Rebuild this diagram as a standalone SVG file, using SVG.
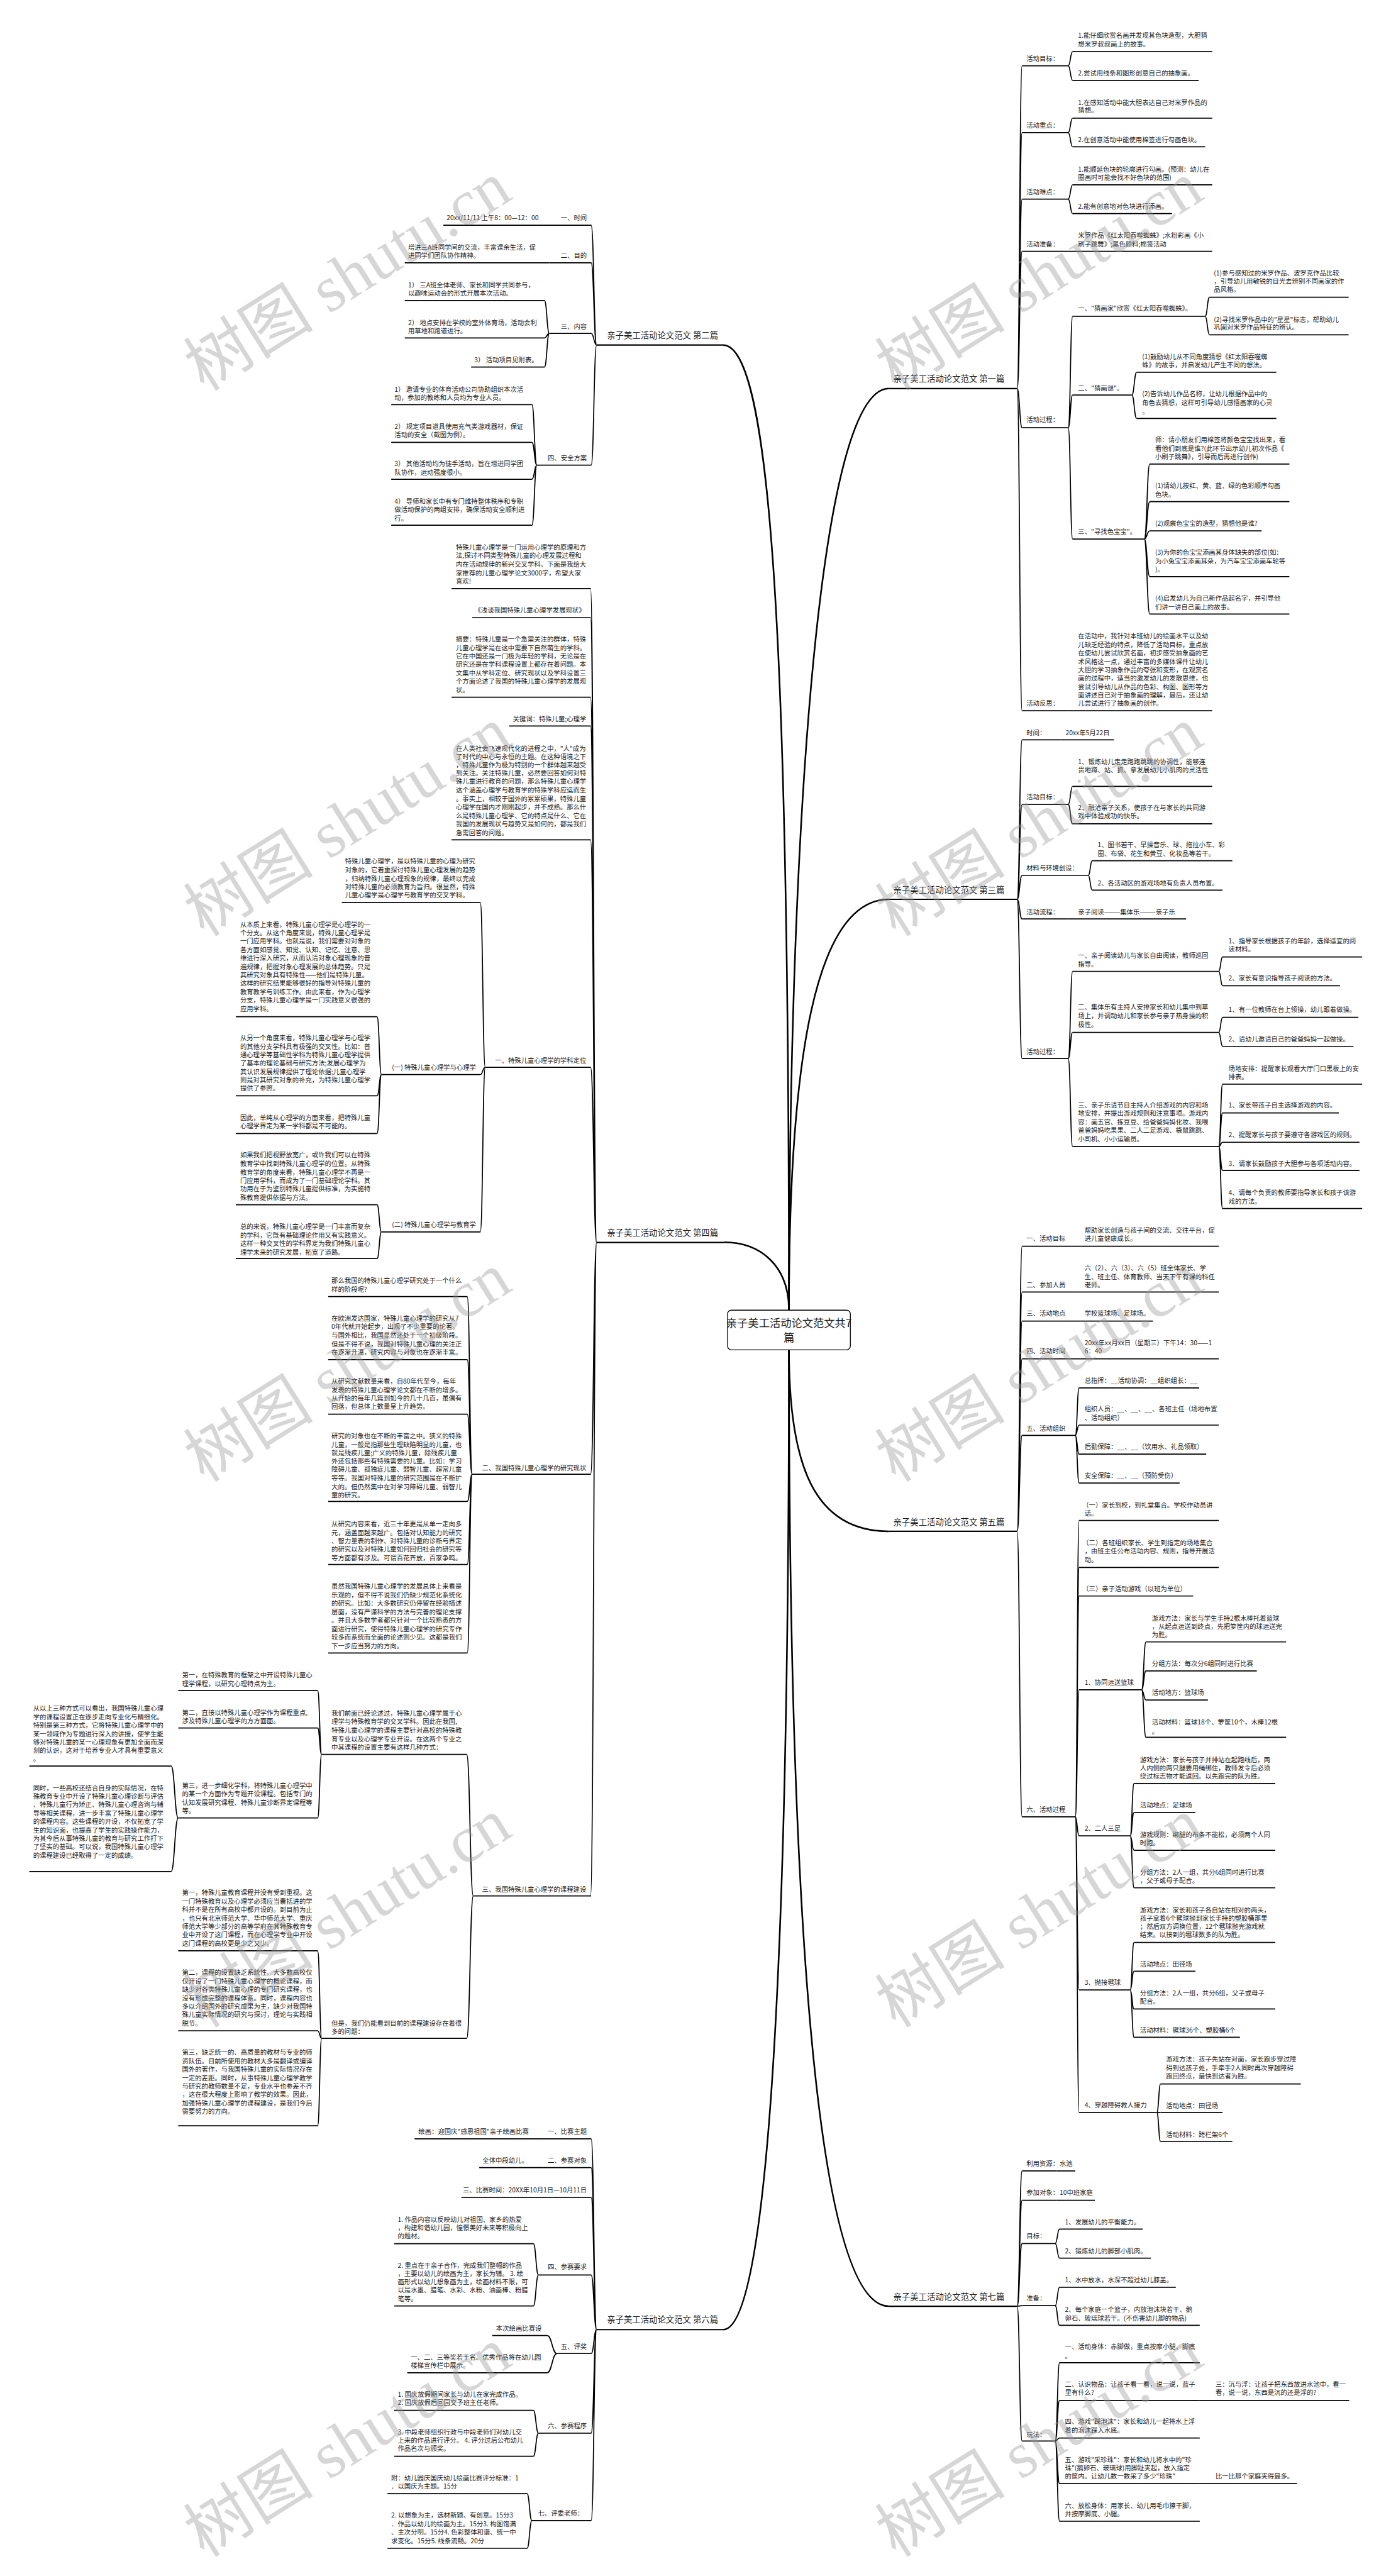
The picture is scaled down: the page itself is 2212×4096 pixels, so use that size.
<svg xmlns="http://www.w3.org/2000/svg" width="2212" height="4096" viewBox="0 0 2212 4096">
<style>
text{font-family:"Noto Sans CJK SC","Liberation Sans",sans-serif;font-size:12px;fill:#1a1a1a}
.l1{font-size:15.5px}
.c{font-size:20px;text-anchor:middle}
.e{text-anchor:end}
.u{stroke:#000;stroke-width:2;fill:none}
.u1{stroke:#000;stroke-width:2.5;fill:none}
.k{stroke:#000;stroke-width:3;fill:none}
.cn{stroke:#000;stroke-width:2;fill:none}
.wm{font-family:"Liberation Serif","Noto Sans CJK SC",serif;font-size:120px;fill:#999;fill-opacity:.4;text-anchor:middle}
</style>
<rect width="2212" height="4096" fill="#fff"/>
<g transform="scale(0.86406)">
<g id="connectors">
<path class="k" d="M1452 2411C1452 1600 1500 715 1636 715"/>
<path class="k" d="M1452 2411C1452 1950 1500 1655 1636 1655"/>
<path class="k" d="M1452 2484C1452 2700 1500 2818 1636 2818"/>
<path class="k" d="M1452 2484C1452 3500 1500 4244 1636 4244"/>
<path class="k" d="M1452 2411C1452 1200 1420 635 1331 635"/>
<path class="k" d="M1452 2411C1452 2330 1400 2286 1333 2286"/>
<path class="k" d="M1452 2484C1452 3500 1420 4287 1331 4287"/>
<path class="cn" d="M1872 715C1876.5 715 1876.5 121 1881 121M1872 715C1876.5 715 1876.5 244 1881 244M1872 715C1876.5 715 1876.5 366.5 1881 366.5M1872 715C1876.5 715 1876.5 462.5 1881 462.5M1872 715C1876.5 715 1876.5 787 1881 787M1872 715C1876.5 715 1876.5 1308 1881 1308"/>
<path class="cn" d="M1966 121C1970 121 1970 95 1974 95M1966 121C1970 121 1970 148 1974 148M1966 244C1970 244 1970 217.5 1974 217.5M1966 244C1970 244 1970 270 1974 270M1966 366.5C1970 366.5 1970 340 1974 340M1966 366.5C1970 366.5 1970 393 1974 393M1966 787C1970 787 1970 582 1974 582M1966 787C1970 787 1970 727 1974 727M1966 787C1970 787 1970 992 1974 992"/>
<path class="cn" d="M2218 582C2222 582 2222 547 2226 547M2218 582C2222 582 2222 616 2226 616M2083 727C2087.5 727 2087.5 685 2092 685M2083 727C2087.5 727 2087.5 770 2092 770M2106 992C2111 992 2111 854 2116 854M2106 992C2111 992 2111 923 2116 923M2106 992C2111 992 2111 977 2116 977M2106 992C2111 992 2111 1061 2116 1061M2106 992C2111 992 2111 1130 2116 1130"/>
<path class="cn" d="M1872 1655C1876.5 1655 1876.5 1361.5 1881 1361.5M1872 1655C1876.5 1655 1876.5 1480.5 1881 1480.5M1872 1655C1876.5 1655 1876.5 1611 1881 1611M1872 1655C1876.5 1655 1876.5 1691 1881 1691M1872 1655C1876.5 1655 1876.5 1948 1881 1948"/>
<path class="cn" d="M1966 1480.5C1970 1480.5 1970 1447 1974 1447M1966 1480.5C1970 1480.5 1970 1516 1974 1516M2003 1611C2006.5 1611 2006.5 1584 2010 1584M2003 1611C2006.5 1611 2006.5 1638 2010 1638M1966 1948C1970 1948 1970 1787.5 1974 1787.5M1966 1948C1970 1948 1970 1900 1974 1900M1966 1948C1970 1948 1970 2110 1974 2110"/>
<path class="cn" d="M2243 1787.5C2246.5 1787.5 2246.5 1761 2250 1761M2243 1787.5C2246.5 1787.5 2246.5 1814 2250 1814M2243 1900C2246.5 1900 2246.5 1872 2250 1872M2243 1900C2246.5 1900 2246.5 1925.5 2250 1925.5M2243 2110C2246.5 2110 2246.5 1995 2250 1995M2243 2110C2246.5 2110 2246.5 2048 2250 2048M2243 2110C2246.5 2110 2246.5 2102 2250 2102M2243 2110C2246.5 2110 2246.5 2154 2250 2154M2243 2110C2246.5 2110 2246.5 2224 2250 2224"/>
<path class="cn" d="M1872 2818C1876.5 2818 1876.5 2293.5 1881 2293.5M1872 2818C1876.5 2818 1876.5 2377.5 1881 2377.5M1872 2818C1876.5 2818 1876.5 2431 1881 2431M1872 2818C1876.5 2818 1876.5 2500.5 1881 2500.5M1872 2818C1876.5 2818 1876.5 2641.5 1881 2641.5M1872 2818C1876.5 2818 1876.5 3343.5 1881 3343.5"/>
<path class="cn" d="M1979 2641.5C1982.5 2641.5 1982.5 2554 1986 2554M1979 2641.5C1982.5 2641.5 1982.5 2622.5 1986 2622.5M1979 2641.5C1982.5 2641.5 1982.5 2676 1986 2676M1979 2641.5C1982.5 2641.5 1982.5 2729 1986 2729"/>
<path class="cn" d="M1979 3343.5C1982.5 3343.5 1982.5 2798 1986 2798M1979 3343.5C1982.5 3343.5 1982.5 2884.5 1986 2884.5M1979 3343.5C1982.5 3343.5 1982.5 2937 1986 2937M1979 3343.5C1982.5 3343.5 1982.5 3109.5 1986 3109.5M1979 3343.5C1982.5 3343.5 1982.5 3378.5 1986 3378.5M1979 3343.5C1982.5 3343.5 1982.5 3662 1986 3662M1979 3343.5C1982.5 3343.5 1982.5 3887.5 1986 3887.5"/>
<path class="cn" d="M2101 3109.5C2105 3109.5 2105 3021.5 2109 3021.5M2101 3109.5C2105 3109.5 2105 3075 2109 3075M2101 3109.5C2105 3109.5 2105 3128.5 2109 3128.5M2101 3109.5C2105 3109.5 2105 3197 2109 3197"/>
<path class="cn" d="M2080 3378.5C2083.5 3378.5 2083.5 3282 2087 3282M2080 3378.5C2083.5 3378.5 2083.5 3335.5 2087 3335.5M2080 3378.5C2083.5 3378.5 2083.5 3405 2087 3405M2080 3378.5C2083.5 3378.5 2083.5 3474 2087 3474"/>
<path class="cn" d="M2080 3662C2083.5 3662 2083.5 3574.5 2087 3574.5M2080 3662C2083.5 3662 2083.5 3627.5 2087 3627.5M2080 3662C2083.5 3662 2083.5 3697 2087 3697M2080 3662C2083.5 3662 2083.5 3749 2087 3749"/>
<path class="cn" d="M2129 3887.5C2132.5 3887.5 2132.5 3835 2136 3835M2129 3887.5L2136 3887.5M2129 3887.5C2132.5 3887.5 2132.5 3941 2136 3941"/>
<path class="cn" d="M1872 4244C1876.5 4244 1876.5 3995 1881 3995M1872 4244C1876.5 4244 1876.5 4049 1881 4049M1872 4244C1876.5 4244 1876.5 4128.5 1881 4128.5M1872 4244C1876.5 4244 1876.5 4243 1881 4243M1872 4244C1876.5 4244 1876.5 4492 1881 4492"/>
<path class="cn" d="M1942 4128.5C1946 4128.5 1946 4102 1950 4102M1942 4128.5C1946 4128.5 1946 4155.5 1950 4155.5M1942 4243C1946 4243 1946 4209 1950 4209M1942 4243C1946 4243 1946 4279 1950 4279M1942 4492C1946 4492 1946 4348 1950 4348M1942 4492C1946 4492 1946 4417.5 1950 4417.5M1942 4492C1946 4492 1946 4486.5 1950 4486.5M1942 4492C1946 4492 1946 4570.5 1950 4570.5M1942 4492C1946 4492 1946 4639.5 1950 4639.5"/>
<path class="cn" d="M1098 635C1093 635 1093 414.5 1088 414.5M1098 635C1093 635 1093 483.5 1088 483.5M1098 635C1093 635 1093 613.5 1088 613.5M1098 635C1093 635 1093 856 1088 856"/>
<path class="cn" d="M1011 613.5C1006.5 613.5 1006.5 553 1002 553M1011 613.5C1006.5 613.5 1006.5 622 1002 622M1011 613.5C1006.5 613.5 1006.5 675.5 1002 675.5M988 856C983.5 856 983.5 744.5 979 744.5M988 856C983.5 856 983.5 814 979 814M988 856C983.5 856 983.5 882 979 882M988 856C983.5 856 983.5 966.5 979 966.5"/>
<path class="cn" d="M1098 2286.5C1092.5 2286.5 1092.5 1083 1087 1083M1098 2286.5C1092.5 2286.5 1092.5 1136.5 1087 1136.5M1098 2286.5C1092.5 2286.5 1092.5 1283 1087 1283M1098 2286.5C1092.5 2286.5 1092.5 1336 1087 1336M1098 2286.5C1092.5 2286.5 1092.5 1545.5 1087 1545.5M1098 2286.5C1092.5 2286.5 1092.5 1964 1087 1964M1098 2286.5C1092.5 2286.5 1092.5 2713 1087 2713M1098 2286.5C1092.5 2286.5 1092.5 3489 1087 3489"/>
<path class="cn" d="M893 1964C888.5 1964 888.5 1660.5 884 1660.5M893 1964C888.5 1964 888.5 1977.5 884 1977.5M893 1964C888.5 1964 888.5 2267 884 2267"/>
<path class="cn" d="M702 1977.5C698 1977.5 698 1871 694 1871M702 1977.5C698 1977.5 698 2016.5 694 2016.5M702 1977.5C698 1977.5 698 2086 694 2086M702 2267C698 2267 698 2217 694 2217M702 2267C698 2267 698 2316 694 2316"/>
<path class="cn" d="M869 2713C864.5 2713 864.5 2386 860 2386M869 2713C864.5 2713 864.5 2502 860 2502M869 2713C864.5 2713 864.5 2602.5 860 2602.5M869 2713C864.5 2713 864.5 2763 860 2763M869 2713C864.5 2713 864.5 2879 860 2879M869 2713C864.5 2713 864.5 3042 860 3042"/>
<path class="cn" d="M871 3489C865 3489 865 3228.5 859 3228.5M871 3489C865 3489 865 3751 859 3751M592 3228.5C588.3 3228.5 588.3 3111 584.6 3111M592 3228.5C588.3 3228.5 588.3 3180 584.6 3180M592 3228.5C588.3 3228.5 588.3 3345.5 584.6 3345.5"/>
<path class="cn" d="M328 3345.5C321.5 3345.5 321.5 3250 315 3250M328 3345.5C321.5 3345.5 321.5 3444 315 3444"/>
<path class="cn" d="M592 3751C588.3 3751 588.3 3590 584.6 3590M592 3751C588.3 3751 588.3 3737 584.6 3737M592 3751C588.3 3751 588.3 3912 584.6 3912"/>
<path class="cn" d="M1098 4287C1093 4287 1093 3936 1088 3936M1098 4287C1093 4287 1093 3989 1088 3989M1098 4287C1093 4287 1093 4044 1088 4044M1098 4287C1093 4287 1093 4186.5 1088 4186.5M1098 4287C1093 4287 1093 4331 1088 4331M1098 4287C1093 4287 1093 4477.5 1088 4477.5M1098 4287C1093 4287 1093 4638.5 1088 4638.5"/>
<path class="cn" d="M991 4186.5C986.3 4186.5 986.3 4129 981.6 4129M991 4186.5C986.3 4186.5 986.3 4243.5 981.6 4243.5M1025 4331C1016 4331 1016 4298 1007 4298M1025 4331C1016 4331 1016 4366.5 1007 4366.5M991 4477.5C986.3 4477.5 986.3 4435.5 981.6 4435.5M991 4477.5C986.3 4477.5 986.3 4520 981.6 4520M979 4638.5C974.5 4638.5 974.5 4589 970 4589M979 4638.5C974.5 4638.5 974.5 4689.5 970 4689.5"/>
</g>

<g id="center"><rect x="1339" y="2411" width="226" height="73" rx="7" fill="#fff" stroke="#000" stroke-width="1.5"/><text class="c" x="1452" y="2442">亲子美工活动论文范文共7</text><text class="c" x="1452" y="2469">篇</text></g>

<g id="p1"><text class="l1" x="1644" y="703">亲子美工活动论文范文 第一篇</text><path class="u1" d="M1636 715H1872"/></g>
<g id="p1-a"><text x="1889" y="112.5">活动目标：</text><path class="u" d="M1881 121H1966"/></g>
<g id="p1-a1"><text x="1984" y="70">1.能仔细欣赏名画并发现其色块造型，大胆猜</text><text x="1984" y="86">想米罗叔叔画上的故事。</text><path class="u" d="M1974 95H2231"/></g>
<g id="p1-a2"><text x="1984" y="139">2.尝试用线条和图形创意自己的抽象画。</text><path class="u" d="M1974 148H2206"/></g>
<g id="p1-b"><text x="1889" y="235">活动重点：</text><path class="u" d="M1881 244H1966"/></g>
<g id="p1-b1"><text x="1984" y="193">1.在感知活动中能大胆表达自己对米罗作品的</text><text x="1984" y="207.5">猜想。</text><path class="u" d="M1974 217.5H2231"/></g>
<g id="p1-b2"><text x="1984" y="261.5">2.在创意活动中能使用棉签进行勾画色块。</text><path class="u" d="M1974 270H2218"/></g>
<g id="p1-c"><text x="1889" y="357.5">活动难点：</text><path class="u" d="M1881 366.5H1966"/></g>
<g id="p1-c1"><text x="1984" y="315.5">1.能顺延色块的轮廓进行勾画。(预测：幼儿在</text><text x="1984" y="331">圈画时可能会找不好色块的范围)</text><path class="u" d="M1974 340H2231"/></g>
<g id="p1-c2"><text x="1984" y="384">2.能有创意地对色块进行添画。</text><path class="u" d="M1974 393H2157"/></g>
<g id="p1-d"><text x="1889" y="453.5">活动准备：</text><path class="u" d="M1881 462.5H1966"/></g>
<g id="p1-d1"><text x="1984" y="438">米罗作品《红太阳吞噬蜘蛛》;水粉彩画《小</text><text x="1984" y="453.5">刷子跳舞》;黑色颜料;棉签活动</text><path class="u" d="M1966 462.5H2231"/></g>
<g id="p1-e"><text x="1889" y="777">活动过程：</text><path class="u" d="M1881 787H1966"/></g>
<g id="p1-e1"><text x="1984" y="572">一、"猜画家"欣赏《红太阳吞噬蜘蛛》。</text><path class="u" d="M1974 582H2218"/></g>
<g id="p1-e1a"><text x="2234" y="506.5">(1)参与感知过的米罗作品、波罗克作品比较</text><text x="2234" y="522">，引导幼儿用敏锐的目光去辨别不同画家的作</text><text x="2234" y="537">品风格。</text><path class="u" d="M2226 547H2482"/></g>
<g id="p1-e1b"><text x="2234" y="592">(2)寻找米罗作品中的"星星"标志，帮助幼儿</text><text x="2234" y="606.5">巩固对米罗作品特征的辨认。</text><path class="u" d="M2226 616H2482"/></g>
<g id="p1-e2"><text x="1984" y="719">二、"猜画谜"。</text><path class="u" d="M1974 727H2083"/></g>
<g id="p1-e2a"><text x="2102" y="661">(1)鼓励幼儿从不同角度猜想《红太阳吞噬蜘</text><text x="2102" y="676">蛛》的故事，并启发幼儿产生不同的想法。</text><path class="u" d="M2092 685H2349"/></g>
<g id="p1-e2b"><text x="2102" y="729.5">(2)告诉幼儿作品名称，让幼儿根据作品中的</text><text x="2102" y="745.5">角色去猜想，这样可引导幼儿感悟画家的心灵</text><text x="2102" y="762">。</text><path class="u" d="M2092 770H2349"/></g>
<g id="p1-e3"><text x="1984" y="983">三、"寻找色宝宝"。</text><path class="u" d="M1974 992H2106"/></g>
<g id="p1-e3a"><text x="2126" y="813.5">师：请小朋友们用棉签将颜色宝宝找出来，看</text><text x="2126" y="829.5">看他们到底是谁?(此环节出示幼儿初次作品《</text><text x="2126" y="844.5">小刷子跳舞》，引导而后再进行创作)</text><path class="u" d="M2116 854H2373"/></g>
<g id="p1-e3b"><text x="2126" y="898.5">(1)请幼儿按红、黄、蓝、绿的色彩顺序勾画</text><text x="2126" y="914">色块。</text><path class="u" d="M2116 923H2373"/></g>
<g id="p1-e3c"><text x="2126" y="967.5">(2)观察色宝宝的造型，猜想他是谁?</text><path class="u" d="M2116 977H2322"/></g>
<g id="p1-e3d"><text x="2126" y="1020.5">(3)为你的色宝宝添画其身体缺失的部位(如：</text><text x="2126" y="1036.5">为小兔宝宝添画耳朵，为汽车宝宝添画车轮等</text><text x="2126" y="1052.5">)。</text><path class="u" d="M2116 1061H2373"/></g>
<g id="p1-e3e"><text x="2126" y="1105.5">(4)启发幼儿为自己新作品起名字，并引导他</text><text x="2126" y="1121.5">们讲一讲自己画上的故事。</text><path class="u" d="M2116 1130H2373"/></g>
<g id="p1-f"><text x="1889" y="1298">活动反思：</text><path class="u" d="M1881 1308H1966"/></g>
<g id="p1-f1"><text x="1984" y="1175">在活动中，我针对本班幼儿的绘画水平以及幼</text><text x="1984" y="1190.5">儿缺乏经验的特点，降低了活动目标，重点放</text><text x="1984" y="1206">在使幼儿尝试欣赏名画，初步感受抽象画的艺</text><text x="1984" y="1222">术风格这一点，通过丰富的多媒体课件让幼儿</text><text x="1984" y="1237">大胆的学习抽象作品的夸张和变形，在观赏名</text><text x="1984" y="1252.5">画的过程中，适当的激发幼儿的发散思维，也</text><text x="1984" y="1268">尝试引导幼儿从作品的色彩、构图、图形等方</text><text x="1984" y="1283">面讲述自己对于抽象画的理解，最后，还让幼</text><text x="1984" y="1298">儿尝试进行了抽象画的创作。</text><path class="u" d="M1966 1308H2231"/></g>

<g id="p3"><text class="l1" x="1644" y="1643">亲子美工活动论文范文 第三篇</text><path class="u1" d="M1636 1655H1872"/></g>
<g id="p3-a"><text x="1889" y="1353">时间：</text><path class="u" d="M1881 1361.5H1952"/></g>
<g id="p3-a1"><text x="1961" y="1353">20xx年5月22日</text><path class="u" d="M1952 1361.5H2050"/></g>
<g id="p3-b"><text x="1889" y="1471">活动目标：</text><path class="u" d="M1881 1480.5H1966"/></g>
<g id="p3-b1"><text x="1984" y="1406.5">1、锻炼幼儿走走跑跑跳跳的协调性，能够连</text><text x="1984" y="1421.5">贯地蹲、站、抓、拿发展幼儿小肌肉的灵活性</text><text x="1984" y="1438">。</text><path class="u" d="M1974 1447H2231"/></g>
<g id="p3-b2"><text x="1984" y="1490.5">2、融洽亲子关系，使孩子在与家长的共同游</text><text x="1984" y="1505.5">戏中体验成功的快乐。</text><path class="u" d="M1974 1516H2231"/></g>
<g id="p3-c"><text x="1889" y="1601.5">材料与环境创设：</text><path class="u" d="M1881 1611H2003"/></g>
<g id="p3-c1"><text x="2020" y="1559.5">1、图书若干、早操音乐、球、拖拉小车、彩</text><text x="2020" y="1575">圈、布袋、花生和黄豆、化妆品等若干。</text><path class="u" d="M2010 1584H2268"/></g>
<g id="p3-c2"><text x="2020" y="1629">2、各活动区的游戏场地有负责人员布置。</text><path class="u" d="M2010 1638H2250"/></g>
<g id="p3-d"><text x="1889" y="1682.5">活动流程：</text><path class="u" d="M1881 1691H1966"/></g>
<g id="p3-d1"><text x="1984" y="1682.5">亲子阅读———集体乐———亲子乐</text><path class="u" d="M1966 1691H2183"/></g>
<g id="p3-e"><text x="1889" y="1939.5">活动过程：</text><path class="u" d="M1881 1948H1966"/></g>
<g id="p3-e1"><text x="1984" y="1762.5">一、亲子阅读幼儿与家长自由阅读，教师巡回</text><text x="1984" y="1778.5">指导。</text><path class="u" d="M1974 1787.5H2243"/></g>
<g id="p3-e1a"><text x="2261" y="1735.5">1、指导家长根据孩子的年龄，选择适宜的阅</text><text x="2261" y="1751.5">读材料。</text><path class="u" d="M2250 1761H2507"/></g>
<g id="p3-e1b"><text x="2261" y="1804.5">2、家长有意识指导孩子阅读的方法。</text><path class="u" d="M2250 1814H2466"/></g>
<g id="p3-e2"><text x="1984" y="1858">二、集体乐有主持人安排家长和幼儿集中到草</text><text x="1984" y="1874">场上，并调动幼儿和家长参与亲子热身操的积</text><text x="1984" y="1889.5">极性。</text><path class="u" d="M1974 1900H2243"/></g>
<g id="p3-e2a"><text x="2261" y="1862.5">1、有一位教师在台上领操，幼儿跟着做操。</text><path class="u" d="M2250 1872H2500"/></g>
<g id="p3-e2b"><text x="2261" y="1916">2、请幼儿邀请自己的爸爸妈妈一起做操。</text><path class="u" d="M2250 1925.5H2491"/></g>
<g id="p3-e3"><text x="1984" y="2037.5">三、亲子乐请节目主持人介绍游戏的内容和场</text><text x="1984" y="2053.5">地安排，并提出游戏规则和注意事项。游戏内</text><text x="1984" y="2069">容：画五官、拣豆豆、给爸爸妈妈化妆、我喂</text><text x="1984" y="2084.5">爸爸妈妈吃果果、二人二足游戏、袋鼠跳跳、</text><text x="1984" y="2100.5">小司机、小小运输员。</text><path class="u" d="M1974 2110H2243"/></g>
<g id="p3-e3a"><text x="2261" y="1970.5">场地安排：提醒家长观看大厅门口黑板上的安</text><text x="2261" y="1986">排表。</text><path class="u" d="M2250 1995H2507"/></g>
<g id="p3-e3b"><text x="2261" y="2038.5">1、家长带孩子自主选择游戏的内容。</text><path class="u" d="M2250 2048H2464"/></g>
<g id="p3-e3c"><text x="2261" y="2092.5">2、提醒家长与孩子要遵守各游戏区的规则。</text><path class="u" d="M2250 2102H2502"/></g>
<g id="p3-e3d"><text x="2261" y="2146">3、请家长鼓励孩子大胆参与各项活动内容。</text><path class="u" d="M2250 2154H2502"/></g>
<g id="p3-e3e"><text x="2261" y="2199.5">4、请每个负责的教师要指导家长和孩子该游</text><text x="2261" y="2215">戏的方法。</text><path class="u" d="M2250 2224H2507"/></g>

<g id="p5"><text class="l1" x="1644" y="2806">亲子美工活动论文范文 第五篇</text><path class="u1" d="M1636 2818H1872"/></g>
<g id="p5-a"><text x="1889" y="2283.5">一、活动目标</text><path class="u" d="M1881 2293.5H1988"/></g>
<g id="p5-a1"><text x="1996" y="2268.5">帮助家长创造与孩子间的交流、交往平台，促</text><text x="1996" y="2283.5">进儿童健康成长。</text><path class="u" d="M1988 2293.5H2243"/></g>
<g id="p5-b"><text x="1889" y="2368.5">二、参加人员</text><path class="u" d="M1881 2377.5H1988"/></g>
<g id="p5-b1"><text x="1996" y="2337.5">六（2）、六（3）、六（5）班全体家长、学</text><text x="1996" y="2353.5">生、班主任、体育教师、当天下午有课的科任</text><text x="1996" y="2368.5">老师。</text><path class="u" d="M1988 2377.5H2243"/></g>
<g id="p5-c"><text x="1889" y="2421.5">三、活动地点</text><path class="u" d="M1881 2431H1988"/></g>
<g id="p5-c1"><text x="1996" y="2421.5">学校篮球场、足球场。</text><path class="u" d="M1988 2431H2122"/></g>
<g id="p5-d"><text x="1889" y="2490.5">四、活动时间</text><path class="u" d="M1881 2500.5H1988"/></g>
<g id="p5-d1"><text x="1996" y="2475.5">20xx年xx月xx日（星期三）下午14：30——1</text><text x="1996" y="2490.5">6：40</text><path class="u" d="M1988 2500.5H2243"/></g>
<g id="p5-e"><text x="1889" y="2632.5">五、活动组织</text><path class="u" d="M1881 2641.5H1979"/></g>
<g id="p5-e1"><text x="1996" y="2544.5">总指挥：__活动协调：__组织组长：__</text><path class="u" d="M1986 2554H2207"/></g>
<g id="p5-e2"><text x="1996" y="2597.5">组织人员：__、__、__、各班主任（场地布置</text><text x="1996" y="2613.5">、活动组织）</text><path class="u" d="M1986 2622.5H2243"/></g>
<g id="p5-e3"><text x="1996" y="2666.5">后勤保障：__、__（饮用水、礼品领取）</text><path class="u" d="M1986 2676H2220"/></g>
<g id="p5-e4"><text x="1996" y="2719.5">安全保障：__、__（预防受伤）</text><path class="u" d="M1986 2729H2171"/></g>
<g id="p5-f"><text x="1889" y="3334.5">六、活动过程</text><path class="u" d="M1881 3343.5H1979"/></g>
<g id="p5-f1"><text x="1992" y="2774">（一）家长到校，到礼堂集合。学校作动员讲</text><text x="1996" y="2789.5">话。</text><path class="u" d="M1986 2798H2243"/></g>
<g id="p5-f2"><text x="1992" y="2843">（二）各班组织家长、学生到指定的场地集合</text><text x="1996" y="2859">，由班主任公布活动内容、规则，指导开展活</text><text x="1996" y="2874.5">动。</text><path class="u" d="M1986 2884.5H2243"/></g>
<g id="p5-f3"><text x="1992" y="2928">（三）亲子活动游戏（以班为单位）</text><path class="u" d="M1986 2937H2196"/></g>
<g id="p5-f4"><text x="1996" y="3100.5">1、协同运送篮球</text><path class="u" d="M1986 3109.5H2101"/></g>
<g id="p5-f4a"><text x="2120" y="2982.5">游戏方法：家长与学生手持2根木棒托着篮球</text><text x="2120" y="2997.5">，从起点运送到终点，先把箩筐内的球运送完</text><text x="2120" y="3012.5">为胜。</text><path class="u" d="M2109 3021.5H2367"/></g>
<g id="p5-f4b"><text x="2120" y="3066">分组方法：每次分6组同时进行比赛</text><path class="u" d="M2109 3075H2313"/></g>
<g id="p5-f4c"><text x="2120" y="3119.5">活动地方：篮球场</text><path class="u" d="M2109 3128.5H2223"/></g>
<g id="p5-f4d"><text x="2120" y="3173">活动材料：篮球18个、箩筐10个，木棒12根</text><text x="2120" y="3191">。</text><path class="u" d="M2109 3197H2367"/></g>
<g id="p5-f5"><text x="1996" y="3369.5">2、二人三足</text><path class="u" d="M1986 3378.5H2080"/></g>
<g id="p5-f5a"><text x="2098" y="3242.5">游戏方法：家长与孩子并排站在起跑线后，两</text><text x="2098" y="3258">人内侧的两只腿要用绳绑住，教师发令后必须</text><text x="2098" y="3273.5">绕过标志物才能返回。以先跑完的队为胜。</text><path class="u" d="M2087 3282H2347"/></g>
<g id="p5-f5b"><text x="2098" y="3326.5">活动地点：足球场</text><path class="u" d="M2087 3335.5H2200"/></g>
<g id="p5-f5c"><text x="2098" y="3380.5">游戏规则：绑腿的布条不能松，必须两个人同</text><text x="2098" y="3396">时跑。</text><path class="u" d="M2087 3405H2347"/></g>
<g id="p5-f5d"><text x="2098" y="3449.5">分组方法：2人一组，共分6组同时进行比赛</text><text x="2098" y="3465">，父子或母子配合。</text><path class="u" d="M2087 3474H2347"/></g>
<g id="p5-f6"><text x="1996" y="3653">3、抛接毽球</text><path class="u" d="M1986 3662H2080"/></g>
<g id="p5-f6a"><text x="2098" y="3519">游戏方法：家长和孩子各自站在相对的两头，</text><text x="2098" y="3534.5">孩子拿着6个毽球抛到家长手持的塑胶桶那里</text><text x="2098" y="3550">；然后双方调换位置，12个毽球抛完游戏就</text><text x="2098" y="3565">结束。以接到的毽球数多的队为胜。</text><path class="u" d="M2087 3574.5H2347"/></g>
<g id="p5-f6b"><text x="2098" y="3618.5">活动地点：田径场</text><path class="u" d="M2087 3627.5H2200"/></g>
<g id="p5-f6c"><text x="2098" y="3672.5">分组方法：2人一组，共分6组，父子或母子</text><text x="2098" y="3687.5">配合。</text><path class="u" d="M2087 3697H2347"/></g>
<g id="p5-f6d"><text x="2098" y="3740.5">活动材料：毽球36个、塑胶桶6个</text><path class="u" d="M2087 3749H2282"/></g>
<g id="p5-f7"><text x="1996" y="3878.5">4、穿越障碍救人接力</text><path class="u" d="M1986 3887.5H2129"/></g>
<g id="p5-f7a"><text x="2146" y="3794">游戏方法：孩子先站在对面，家长跑步穿过障</text><text x="2146" y="3810">碍到达孩子处，手牵手2人同时再次穿越障碍</text><text x="2146" y="3825.5">跑回终点，最快到达者为胜。</text><path class="u" d="M2136 3835H2394"/></g>
<g id="p5-f7b"><text x="2146" y="3879.5">活动地点：田径场</text><path class="u" d="M2136 3887.5H2250"/></g>
<g id="p5-f7c"><text x="2146" y="3932.5">活动材料：跨栏架6个</text><path class="u" d="M2136 3941H2268"/></g>

<g id="p7"><text class="l1" x="1644" y="4232">亲子美工活动论文范文 第七篇</text><path class="u1" d="M1636 4244H1872"/></g>
<g id="p7-a"><text x="1889" y="3986">利用资源：</text><path class="u" d="M1881 3995H1945"/></g>
<g id="p7-a1"><text x="1950" y="3986">水池</text><path class="u" d="M1945 3995H1979"/></g>
<g id="p7-b"><text x="1889" y="4039.5">参加对象：</text><path class="u" d="M1881 4049H1945"/></g>
<g id="p7-b1"><text x="1950" y="4039.5">10中班家庭</text><path class="u" d="M1945 4049H2015"/></g>
<g id="p7-c"><text x="1889" y="4119.5">目标：</text><path class="u" d="M1881 4128.5H1942"/></g>
<g id="p7-c1"><text x="1960" y="4093">1、发展幼儿的平衡能力。</text><path class="u" d="M1950 4102H2103"/></g>
<g id="p7-c2"><text x="1960" y="4146.5">2、锻炼幼儿的脚部小肌肉。</text><path class="u" d="M1950 4155.5H2118"/></g>
<g id="p7-d"><text x="1889" y="4234">准备：</text><path class="u" d="M1881 4243H1942"/></g>
<g id="p7-d1"><text x="1960" y="4200">1、水中放水，水深不超过幼儿膝盖。</text><path class="u" d="M1950 4209H2164"/></g>
<g id="p7-d2"><text x="1960" y="4254">2、每个家庭一个篮子，内放泡沫块若干、鹅</text><text x="1960" y="4270">卵石、玻璃球若干。(不伤害幼儿脚的物品)</text><path class="u" d="M1950 4279H2208"/></g>
<g id="p7-e"><text x="1889" y="4485">玩法：</text><path class="u" d="M1881 4492H1942"/></g>
<g id="p7-e1"><text x="1960" y="4322.5">一、活动身体：赤脚做，重点按摩小腿、脚底</text><text x="1960" y="4339.5">。</text><path class="u" d="M1950 4348H2208"/></g>
<g id="p7-e2"><text x="1960" y="4391.5">二、认识物品：让孩子看一看，说一说，蓝子</text><text x="1960" y="4407">里有什么?</text><path class="u" d="M1950 4417.5H2208"/></g>
<g id="p7-e2a"><text x="2237" y="4391.5">三：沉与浮：让孩子把东西放进水池中，看一</text><text x="2237" y="4407">看，说一说，东西是沉的还是浮的?</text><path class="u" d="M2208 4417.5H2483"/></g>
<g id="p7-e3"><text x="1960" y="4460.5">四、游戏"踩泡沫"：家长和幼儿一起将水上浮</text><text x="1960" y="4476.5">着的泡沫踩入水底。</text><path class="u" d="M1950 4486.5H2208"/></g>
<g id="p7-e4"><text x="1960" y="4530.5">五、游戏"采珍珠"：家长和幼儿将水中的"珍</text><text x="1960" y="4545.5">珠"(鹅卵石、玻璃球)用脚趾夹起，放入指定</text><text x="1960" y="4560.5">的筐内。让幼儿数一数采了多少"珍珠"</text><path class="u" d="M1950 4570.5H2208"/></g>
<g id="p7-e4a"><text x="2237" y="4560.5">比一比那个家庭夹得最多。</text><path class="u" d="M2208 4570.5H2387"/></g>
<g id="p7-e5"><text x="1960" y="4615">六、放松身体：用家长、幼儿用毛巾擦干脚，</text><text x="1960" y="4630.5">并按摩脚底、小腿。</text><path class="u" d="M1950 4639.5H2208"/></g>

<g id="p2"><text class="l1" x="1117" y="622.5">亲子美工活动论文范文 第二篇</text><path class="u1" d="M1098 635H1331"/></g>
<g id="p2-a"><text class="e" x="1080" y="405.5">一、时间</text><path class="u" d="M1000 414.5H1088"/></g>
<g id="p2-a1"><text x="822" y="405.5">20xx/11/11 上午8：00—12：00</text><path class="u" d="M816 414.5H1000"/></g>
<g id="p2-b"><text class="e" x="1080" y="475">二、目的</text><path class="u" d="M1011 483.5H1088"/></g>
<g id="p2-b1"><text x="751" y="459">增进三A班同学间的交流，丰富课余生活，促</text><text x="751" y="475">进同学们团队协作精神。</text><path class="u" d="M745 483.5H1011"/></g>
<g id="p2-c"><text class="e" x="1080" y="605.5">三、内容</text><path class="u" d="M1011 613.5H1088"/></g>
<g id="p2-c1"><text x="751" y="529">1） 三A班全体老师、家长和同学共同参与，</text><text x="751" y="544.5">以趣味运动会的形式开展本次活动。</text><path class="u" d="M745 553H1002"/></g>
<g id="p2-c2"><text x="751" y="598">2） 地点安排在学校的室外体育场，活动会利</text><text x="751" y="613.5">用草地和跑道进行。</text><path class="u" d="M745 622H1002"/></g>
<g id="p2-c3"><text x="873" y="666.5">3） 活动项目见附表。</text><path class="u" d="M867 675.5H1002"/></g>
<g id="p2-d"><text class="e" x="1080" y="847.5">四、安全方案</text><path class="u" d="M988 856H1088"/></g>
<g id="p2-d1"><text x="726" y="720.5">1） 邀请专业的体育活动公司协助组织本次活</text><text x="726" y="735.5">动，参加的教练和人员均为专业人员。</text><path class="u" d="M720 744.5H979"/></g>
<g id="p2-d2"><text x="726" y="789.5">2） 规定项目道具使用充气类游戏器材，保证</text><text x="726" y="804.5">活动的安全（截图为例）。</text><path class="u" d="M720 814H979"/></g>
<g id="p2-d3"><text x="726" y="858">3） 其他活动均为徒手活动，旨在增进同学团</text><text x="726" y="873.5">队协作，运动强度很小。</text><path class="u" d="M720 882H979"/></g>
<g id="p2-d4"><text x="726" y="927">4） 导师和家长中有专门维持整体秩序和专职</text><text x="726" y="942.5">做活动保护的两组安排，确保活动安全顺利进</text><text x="726" y="958">行。</text><path class="u" d="M720 966.5H979"/></g>

<g id="p4"><text class="l1" x="1117" y="2274">亲子美工活动论文范文 第四篇</text><path class="u1" d="M1098 2286.5H1333"/></g>
<g id="p4-a"><text x="839" y="1012">特殊儿童心理学是一门运用心理学的原理和方</text><text x="839" y="1027">法,探讨不同类型特殊儿童的心理发展过程和</text><text x="839" y="1043">内在活动规律的新兴交叉学科。下面是我给大</text><text x="839" y="1058.5">家推荐的儿童心理学论文3000字，希望大家</text><text x="839" y="1074">喜欢!</text><path class="u" d="M831 1083H1087"/></g>
<g id="p4-b"><text class="e" x="1077" y="1127">《浅谈我国特殊儿童心理学发展现状》</text><path class="u" d="M869 1136.5H1087"/></g>
<g id="p4-c"><text x="839" y="1180.5">摘要：特殊儿童是一个急需关注的群体，特殊</text><text x="839" y="1196.3">儿童心理学是在这中需要下自然萌生的学科。</text><text x="839" y="1211.5">它在中国还是一门极为年轻的学科，无论是在</text><text x="839" y="1227.2">研究还是在学科课程设置上都存在着问题。本</text><text x="839" y="1243">文集中从学科定位、研究现状以及学科设置三</text><text x="839" y="1258.5">个方面论述了我国的特殊儿童心理学的发展现</text><text x="839" y="1274">状。</text><path class="u" d="M831 1283H1087"/></g>
<g id="p4-d"><text class="e" x="1079" y="1327">关键词：特殊儿童;心理学</text><path class="u" d="M937 1336H1087"/></g>
<g id="p4-e"><text x="839" y="1381.5">在人类社会飞速现代化的进程之中，"人"成为</text><text x="839" y="1396.5">了时代的中心与永恒的主题。在这种语境之下</text><text x="839" y="1412">，特殊儿童作为极为特别的一个群体越来越受</text><text x="839" y="1427.5">到关注。关注特殊儿童，必然要回答如何对特</text><text x="839" y="1442.5">殊儿童进行教育的问题，那么特殊儿童心理学</text><text x="839" y="1458.5">这个涵盖心理学与教育学的特殊学科应运而生</text><text x="839" y="1474.5">。事实上，相较于国外的累累硕果，特殊儿童</text><text x="839" y="1490">心理学在国内才刚刚起步，并不成熟。那么什</text><text x="839" y="1505.3">么是特殊儿童心理学、它的特点是什么、它在</text><text x="839" y="1521">我国的发展现状与趋势又是如何的，都是我们</text><text x="839" y="1536.5">急需回答的问题。</text><path class="u" d="M831 1545.5H1087"/></g>
<g id="p4-f"><text class="e" x="1079" y="1956">一、特殊儿童心理学的学科定位</text><path class="u" d="M893 1964H1087"/></g>
<g id="p4-f1"><text x="635" y="1589.5">特殊儿童心理学，是以特殊儿童的心理为研究</text><text x="635" y="1605.5">对象的，它着重探讨特殊儿童心理发展的趋势</text><text x="635" y="1621">，归纳特殊儿童心理现象的规律，最终以完成</text><text x="635" y="1636.5">对特殊儿童的必须教育为旨归。很显然，特殊</text><text x="635" y="1652">儿童心理学是心理学与教育学的交叉学科。</text><path class="u" d="M629 1660.5H884"/></g>
<g id="p4-f2"><text class="e" x="876" y="1968.5">(一) 特殊儿童心理学与心理学</text><path class="u" d="M702 1977.5H884"/></g>
<g id="p4-f2a"><text x="442" y="1705.5">从本质上来看，特殊儿童心理学是心理学的一</text><text x="442" y="1721">个分支。从这个角度来说，特殊儿童心理学是</text><text x="442" y="1736.5">一门应用学科。也就是说，我们需要对对象的</text><text x="442" y="1752">各方面如感觉、知觉、认知、记忆、注意、思</text><text x="442" y="1767.5">维进行深入研究，从而认清对象心理现象的普</text><text x="442" y="1783">遍规律，把握对象心理发展的总体趋势。只是</text><text x="442" y="1798">其研究对象具有特殊性——他们是特殊儿童。</text><text x="442" y="1813.5">这样的研究结果能够很好的指导对特殊儿童的</text><text x="442" y="1829.5">教育教学与训练工作。由此来看，作为心理学</text><text x="442" y="1845">分支，特殊儿童心理学是一门实践意义很强的</text><text x="442" y="1860.5">应用学科。</text><path class="u" d="M434 1871H694"/></g>
<g id="p4-f2b"><text x="442" y="1914">从另一个角度来看，特殊儿童心理学与心理学</text><text x="442" y="1930">的其他分支学科具有极强的交叉性。比如：普</text><text x="442" y="1945">通心理学等基础性学科为特殊儿童心理学提供</text><text x="442" y="1961">了基本的理论基础与研究方法;发展心理学为</text><text x="442" y="1976.5">其认识发展规律提供了理论依据;儿童心理学</text><text x="442" y="1991.5">则是对其研究对象的补充，为特殊儿童心理学</text><text x="442" y="2007">提供了参照。</text><path class="u" d="M434 2016.5H694"/></g>
<g id="p4-f2c"><text x="442" y="2061.5">因此，单纯从心理学的方面来看，把特殊儿童</text><text x="442" y="2076.5">心理学界定为某一学科都是不可能的。</text><path class="u" d="M434 2086H694"/></g>
<g id="p4-f3"><text class="e" x="876" y="2258">(二) 特殊儿童心理学与教育学</text><path class="u" d="M702 2267H884"/></g>
<g id="p4-f3a"><text x="442" y="2129.5">如果我们把视野放宽广，或许我们可以在特殊</text><text x="442" y="2145.5">教育学中找到特殊儿童心理学的位置。从特殊</text><text x="442" y="2161.5">教育学的角度来看，特殊儿童心理学不再是一</text><text x="442" y="2176.5">门应用学科，而成为了一门基础理论学科。其</text><text x="442" y="2192.5">功用在于为鉴别特殊儿童提供标准，为实施特</text><text x="442" y="2208">殊教育提供依据与方法。</text><path class="u" d="M434 2217H694"/></g>
<g id="p4-f3b"><text x="442" y="2262">总的来说，特殊儿童心理学是一门丰富而复杂</text><text x="442" y="2277.5">的学科，它既有基础理论作用又有实践意义。</text><text x="442" y="2293">这样一种交叉性的学科界定为我们特殊儿童心</text><text x="442" y="2308.5">理学未来的研究发展，拓宽了道路。</text><path class="u" d="M434 2316H694"/></g>
<g id="p4-g"><text class="e" x="1079" y="2705.5">二、我国特殊儿童心理学的研究现状</text><path class="u" d="M869 2713H1087"/></g>
<g id="p4-g1"><text x="610" y="2361.5">那么我国的特殊儿童心理学研究处于一个什么</text><text x="610" y="2377">样的阶段呢?</text><path class="u" d="M604 2386H860"/></g>
<g id="p4-g2"><text x="610" y="2430.5">在欧洲发达国家，特殊儿童心理学的研究从7</text><text x="610" y="2446">0年代就开始起步，出现了不少重要的论著。</text><text x="610" y="2461.5">与国外相比，我国显然还处于一个初级阶段。</text><text x="610" y="2477.5">但是不得不说，我国对特殊儿童心理的关注正</text><text x="610" y="2493">在逐渐升温，研究内容与对象也在逐渐丰富。</text><path class="u" d="M604 2502H860"/></g>
<g id="p4-g3"><text x="610" y="2546.5">从研究文献数量来看，自80年代至今，每年</text><text x="610" y="2562">发表的特殊儿童心理学论文都在不断的增多。</text><text x="610" y="2577.5">从开始的每年几篇到如今的几十几百，虽偶有</text><text x="610" y="2593">回落，但总体上数量呈上升趋势。</text><path class="u" d="M604 2602.5H860"/></g>
<g id="p4-g4"><text x="610" y="2646.5">研究的对象也在不断的丰富之中。狭义的特殊</text><text x="610" y="2662.5">儿童，一般是指那些生理缺陷明显的儿童，也</text><text x="610" y="2677.5">就是残疾儿童;广义的特殊儿童，除残疾儿童</text><text x="610" y="2693.5">外还包括那些有特殊需要的儿童。比如：学习</text><text x="610" y="2708.5">障碍儿童、孤独症儿童、弱智儿童、超常儿童</text><text x="610" y="2724.5">等等。我国对特殊儿童的研究范围是在不断扩</text><text x="610" y="2740">大的。但仍然集中在对学习障碍儿童、弱智儿</text><text x="610" y="2755.5">童的研究。</text><path class="u" d="M604 2763H860"/></g>
<g id="p4-g5"><text x="610" y="2809">从研究内容来看，近三十年更是从单一走向多</text><text x="610" y="2824.5">元，涵盖面越来越广。包括对认知能力的研究</text><text x="610" y="2840">、智力量表的制作、对特殊儿童的诊断与界定</text><text x="610" y="2855.5">的研究以及对特殊儿童如何回归社会的研究等</text><text x="610" y="2871">等方面都有涉及。可谓百花齐放，百家争鸣。</text><path class="u" d="M604 2879H860"/></g>
<g id="p4-g6"><text x="610" y="2923.5">虽然我国特殊儿童心理学的发展总体上来看是</text><text x="610" y="2939.5">乐观的，但不得不说我们仍缺少规范化系统化</text><text x="610" y="2955">的研究。比如：大多数研究仍停留在经验描述</text><text x="610" y="2970.5">层面，没有严谨科学的方法与完善的理论支撑</text><text x="610" y="2986.5">。并且大多数学者都只针对一个比较熟悉的方</text><text x="610" y="3002.5">面进行研究，使得特殊儿童心理学的研究专作</text><text x="610" y="3017.5">较多而系统而全面的论述则少见。这都是我们</text><text x="610" y="3033.5">下一步应当努力的方向。</text><path class="u" d="M604 3042H860"/></g>
<g id="p4-h"><text class="e" x="1079" y="3481.5">三、我国特殊儿童心理学的课程建设</text><path class="u" d="M871 3489H1088"/></g>
<g id="p4-h1"><text x="610" y="3157.5">我们前面已经论述过，特殊儿童心理学属于心</text><text x="610" y="3172.5">理学与特殊教育学的交叉学科。因此在我国,</text><text x="610" y="3188.5">特殊儿童心理学的课程主要针对高校的特殊教</text><text x="610" y="3204.5">育专业以及心理学专业开设。在这两个专业之</text><text x="610" y="3219.5">中其课程的设置主要有这样几种方式：</text><path class="u" d="M592 3228.5H859"/></g>
<g id="p4-h1a"><text x="335" y="3087">第一，在特殊教育的框架之中开设特殊儿童心</text><text x="335" y="3103">理学课程，以研究心理特点为主。</text><path class="u" d="M328 3111H584.6"/></g>
<g id="p4-h1b"><text x="335" y="3156.5">第二，直接以特殊儿童心理学作为课程重点,</text><text x="335" y="3171.5">涉及特殊儿童心理学的方方面面。</text><path class="u" d="M328 3180H584.6"/></g>
<g id="p4-h1c"><text x="335" y="3290">第三，进一步细化学科，将特殊儿童心理学中</text><text x="335" y="3305.5">的某一个方面作为专题开设课程。包括专门的</text><text x="335" y="3321">认知发展研究课程、特殊儿童诊断界定课程等</text><text x="335" y="3337">等。</text><path class="u" d="M328 3345.5H584.6"/></g>
<g id="p4-h1c1"><text x="61" y="3148.5">从以上三种方式可以看出，我国特殊儿童心理</text><text x="61" y="3164">学的课程设置正在逐步走向专业化与精细化。</text><text x="61" y="3179.5">特别是第三种方式，它将特殊儿童心理学中的</text><text x="61" y="3195">某一领域作为专题进行深入的讲授，使学生能</text><text x="61" y="3210.5">够对特殊儿童的某一心理现象有更加全面而深</text><text x="61" y="3226">刻的认识，这对于培养专业人才具有重要意义</text><text x="61" y="3241">。</text><path class="u" d="M54 3250H315"/></g>
<g id="p4-h1c2"><text x="61" y="3294.5">同时，一些高校还结合自身的实际情况，在特</text><text x="61" y="3310">殊教育专业中开设了特殊儿童心理诊断与评估</text><text x="61" y="3325.5">、特殊儿童行为矫正、特殊儿童心理咨询与辅</text><text x="61" y="3341">导等相关课程，进一步丰富了特殊儿童心理学</text><text x="61" y="3356.5">的课程内容。这些课程的开设，不仅拓宽了学</text><text x="61" y="3372">生的知识面，也提高了学生的实践操作能力，</text><text x="61" y="3387.5">为其今后从事特殊儿童的教育与研究工作打下</text><text x="61" y="3403">了坚实的基础。可以说，我国特殊儿童心理学</text><text x="61" y="3418.5">的课程建设已经取得了一定的成绩。</text><path class="u" d="M54 3444H315"/></g>
<g id="p4-h2"><text x="610" y="3727.5">但是，我们仍能看到目前的课程建设存在着很</text><text x="610" y="3743">多的问题：</text><path class="u" d="M592 3751H859"/></g>
<g id="p4-h2a"><text x="335" y="3487.5">第一，特殊儿童教育课程并没有受到重视。这</text><text x="335" y="3503.5">一门特殊教育以及心理学必须应当囊括进的学</text><text x="335" y="3518.5">科并不是在所有高校中都开设的。到目前为止</text><text x="335" y="3534.5">，也只有北京师范大学、华中师范大学、重庆</text><text x="335" y="3549.5">师范大学等少部分的高等学府在其特殊教育专</text><text x="335" y="3565">业中开设了这门课程，而在心理学专业中开设</text><text x="335" y="3580.5">这门课程的高校更是少之又少。</text><path class="u" d="M328 3590H584.6"/></g>
<g id="p4-h2b"><text x="335" y="3634.5">第二，课程的设置缺乏系统性。大多数高校仅</text><text x="335" y="3650">仅开设了一门特殊儿童心理学的概论课程，而</text><text x="335" y="3665.5">缺少对各类特殊儿童心理的专门研究课程，也</text><text x="335" y="3681">没有形成完整的课程体系。同时，课程内容也</text><text x="335" y="3696.5">多以介绍国外的研究成果为主，缺少对我国特</text><text x="335" y="3712">殊儿童实际情况的研究与探讨，理论与实践相</text><text x="335" y="3727.5">脱节。</text><path class="u" d="M328 3737H584.6"/></g>
<g id="p4-h2c"><text x="335" y="3781.5">第三，缺乏统一的、高质量的教材与专业的师</text><text x="335" y="3797">资队伍。目前所使用的教材大多是翻译或编译</text><text x="335" y="3812.5">国外的著作，与我国特殊儿童的实际情况存在</text><text x="335" y="3828">一定的差距。同时，从事特殊儿童心理学教学</text><text x="335" y="3843.5">与研究的教师数量不足，专业水平也参差不齐</text><text x="335" y="3859">，这在很大程度上影响了教学的效果。因此，</text><text x="335" y="3874.5">加强特殊儿童心理学的课程建设，是我们今后</text><text x="335" y="3890">需要努力的方向。</text><path class="u" d="M328 3912H584.6"/></g>

<g id="p6"><text class="l1" x="1117" y="4274.5">亲子美工活动论文范文 第六篇</text><path class="u1" d="M1098 4287H1331"/></g>
<g id="p6-a"><text class="e" x="1080" y="3926.5">一、比赛主题</text><path class="u" d="M1000 3936H1088"/></g>
<g id="p6-a1"><text x="770" y="3926.5">绘画：迎国庆"感恩祖国"亲子绘画比赛</text><path class="u" d="M763 3936H1000"/></g>
<g id="p6-b"><text class="e" x="1080" y="3979.5">二、参赛对象</text><path class="u" d="M1000 3989H1088"/></g>
<g id="p6-b1"><text x="888" y="3979.5">全体中段幼儿。</text><path class="u" d="M882 3989H1000"/></g>
<g id="p6-c"><text class="e" x="1080" y="4034.5">三、比赛时间：20XX年10月1日—10月11日</text><path class="u" d="M849 4044H1088"/></g>
<g id="p6-d"><text class="e" x="1080" y="4175.5">四、参赛要求</text><path class="u" d="M991 4186.5H1088"/></g>
<g id="p6-d1"><text x="732" y="4088.5">1. 作品内容以反映幼儿对祖国、家乡的热爱</text><text x="732" y="4103.5">，构建和谐幼儿园，憧憬美好未来等积极向上</text><text x="732" y="4118.5">的题材。</text><path class="u" d="M725.5 4129H981.6"/></g>
<g id="p6-d2"><text x="732" y="4173.5">2. 重点在于亲子合作，完成我们整幅的作品</text><text x="732" y="4188.5">，主要以幼儿的绘画为主，家长为辅。 3. 绘</text><text x="732" y="4204">画形式以幼儿想象画为主，绘画材料不限，可</text><text x="732" y="4219">以是水墨、腊笔、水彩、水粉、油画棒、粉腊</text><text x="732" y="4234.5">笔等。</text><path class="u" d="M725.5 4243.5H981.6"/></g>
<g id="p6-e"><text class="e" x="1080" y="4323">五、评奖</text><path class="u" d="M1025 4331H1088"/></g>
<g id="p6-e1"><text x="913" y="4289">本次绘画比赛设</text><path class="u" d="M906 4298H1007"/></g>
<g id="p6-e2"><text x="756" y="4342">一、二、三等奖若干名。优秀作品将在幼儿园</text><text x="756" y="4357.5">楼梯宣传栏中展示。</text><path class="u" d="M749.5 4366.5H1007"/></g>
<g id="p6-f"><text class="e" x="1080" y="4468.5">六、参赛程序</text><path class="u" d="M991 4477.5H1088"/></g>
<g id="p6-f1"><text x="732" y="4410.5">1. 国庆放假期间家长与幼儿在家完成作品。</text><text x="732" y="4425.5">2. 国庆放假后回园交予班主任老师。</text><path class="u" d="M725.5 4435.5H981.6"/></g>
<g id="p6-f2"><text x="732" y="4479.5">3. 中段老师组织行政与中段老师们对幼儿交</text><text x="732" y="4494.5">上来的作品进行评分。 4. 评分过后公布幼儿</text><text x="732" y="4510">作品名次与颁奖。</text><path class="u" d="M725.5 4520H981.6"/></g>
<g id="p6-g"><text class="e" x="1074" y="4629.5">七、评委老师：</text><path class="u" d="M979 4638.5H1088"/></g>
<g id="p6-g1"><text x="720" y="4564.5">附：幼儿园庆国庆幼儿绘画比赛评分标准：1</text><text x="720" y="4580">．以国庆为主题。15分</text><path class="u" d="M713 4589H970"/></g>
<g id="p6-g2"><text x="720" y="4633">2. 以想象为主，选材新颖、有创意。15分3</text><text x="720" y="4649">．作品以幼儿的绘画为主。15分3. 构图饱满</text><text x="720" y="4664.5">、主次分明。15分4. 色彩整体和谐、统一中</text><text x="720" y="4680">求变化。15分5. 线条流畅。20分</text><path class="u" d="M713 4689.5H970"/></g>

<g id="watermark">
<text class="wm" transform="translate(640 509) rotate(-32)" y="40">树图 shutu.cn</text>
<text class="wm" transform="translate(640 1513) rotate(-32)" y="40">树图 shutu.cn</text>
<text class="wm" transform="translate(640 2517) rotate(-32)" y="40">树图 shutu.cn</text>
<text class="wm" transform="translate(640 3521) rotate(-32)" y="40">树图 shutu.cn</text>
<text class="wm" transform="translate(640 4495) rotate(-32)" y="40">树图 shutu.cn</text>
<text class="wm" transform="translate(1913 509) rotate(-32)" y="40">树图 shutu.cn</text>
<text class="wm" transform="translate(1913 1513) rotate(-32)" y="40">树图 shutu.cn</text>
<text class="wm" transform="translate(1913 2517) rotate(-32)" y="40">树图 shutu.cn</text>
<text class="wm" transform="translate(1913 3521) rotate(-32)" y="40">树图 shutu.cn</text>
<text class="wm" transform="translate(1913 4495) rotate(-32)" y="40">树图 shutu.cn</text>
</g>
</g>
</svg>
